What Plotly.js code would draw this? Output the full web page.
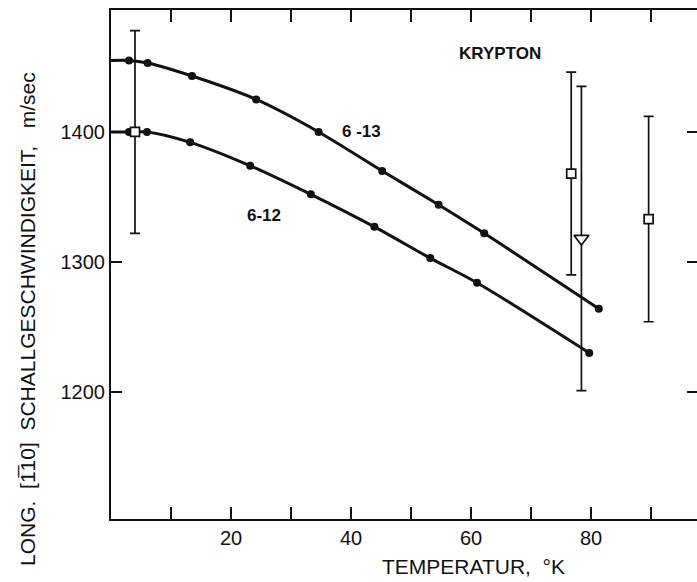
<!DOCTYPE html>
<html><head><meta charset="utf-8">
<script src="https://cdn.plot.ly/plotly-3.0.1.min.js"></script>
<style>html,body{margin:0;padding:0;overflow:hidden;background:#fff}</style>
</head><body><div id="chart" style="width:700px;height:582px"></div>
<script>
// Curve 6-13 (calculated)
const temp613 = [3.0, 6.1, 13.5, 24.2, 34.6, 45.2, 54.6, 62.2, 81.3];
const vel613  = [1455, 1453, 1443, 1425, 1400, 1370, 1344, 1322, 1264];
// Curve 6-12 (calculated)
const temp612 = [3.0, 6.0, 13.2, 23.2, 33.3, 43.9, 53.2, 61.0, 79.7];
const vel612  = [1400, 1400, 1392, 1374, 1352, 1327, 1303, 1284, 1230];
// Experimental points (squares) with error
const expTemp = [4.0, 76.7, 89.6];
const expVel  = [1400, 1368, 1333];
const expErr  = [78, 78, 79];
// Experimental point (triangle) with error
const triTemp = [78.4];
const triVel  = [1318];
const triErr  = [117];
// Axis ticks
const xTickVals = [10, 20, 30, 40, 50, 60, 70, 80, 90];
const xTickText = ['', '20', '', '40', '', '60', '', '80', ''];
const yTickVals = [1200, 1300, 1400];
const yTickText = ['1200', '1300', '1400'];

const ink = '#111';
const fnt = 'Liberation Sans, Arial, sans-serif';

function curveTraces(t, v) {
  return [
    {x: [0].concat(t), y: [v[0]].concat(v), mode: 'lines', type: 'scatter',
     line: {color: ink, width: 3, shape: 'spline', smoothing: 0.8}, hoverinfo: 'skip'},
    {x: t, y: v, mode: 'markers', type: 'scatter',
     marker: {color: ink, size: 8, symbol: 'circle'}}
  ];
}

const data = [
  ...curveTraces(temp613, vel613),
  ...curveTraces(temp612, vel612),
  {x: expTemp, y: expVel, mode: 'markers', type: 'scatter',
   error_y: {type: 'data', array: expErr, visible: true, color: ink, thickness: 1.7, width: 5},
   marker: {symbol: 'square', size: 9, color: '#fff', line: {color: ink, width: 1.7}}},
  {x: triTemp, y: triVel, mode: 'markers', type: 'scatter',
   error_y: {type: 'data', array: triErr, visible: true, color: ink, thickness: 1.7, width: 5},
   marker: {symbol: 'triangle-down', size: 13, color: '#fff', line: {color: ink, width: 1.7}}}
];

const layout = {
  width: 700, height: 582,
  margin: {l: 111, r: 2, t: 10, b: 63},
  paper_bgcolor: '#fff', plot_bgcolor: '#fff',
  showlegend: false,
  font: {family: fnt, color: ink, size: 20},
  xaxis: {
    range: [0, 97.83], showgrid: false, zeroline: false,
    showline: true, linecolor: ink, linewidth: 2, mirror: 'allticks',
    ticks: 'inside', ticklen: 12, tickwidth: 2, tickcolor: ink,
    tickmode: 'array', tickvals: xTickVals, ticktext: xTickText,
    tickfont: {family: fnt, size: 20, color: ink}
  },
  yaxis: {
    range: [1102.3, 1493.8], showgrid: false, zeroline: false,
    showline: true, linecolor: ink, linewidth: 2, mirror: 'ticks',
    ticks: 'inside', ticklen: 11, tickwidth: 2, tickcolor: ink,
    tickmode: 'array', tickvals: yTickVals, ticktext: yTickText,
    tickfont: {family: fnt, size: 20, color: ink}
  },
  annotations: [
    {text: 'KRYPTON', x: 64.8, y: 1460, xref: 'x', yref: 'y', showarrow: false,
     font: {family: fnt, size: 17, color: ink, weight: 'bold'}},
    {text: '6 -13', x: 41.8, y: 1400, xref: 'x', yref: 'y', showarrow: false,
     font: {family: fnt, size: 17, color: ink, weight: 'bold'}},
    {text: '6-12', x: 25.5, y: 1336, xref: 'x', yref: 'y', showarrow: false,
     font: {family: fnt, size: 17, color: ink, weight: 'bold'}},
    {text: 'TEMPERATUR,  °K', x: 0.617, y: -0.094, xref: 'paper', yref: 'paper',
     xanchor: 'center', yanchor: 'middle', showarrow: false,
     font: {family: fnt, size: 21, color: ink}},
    {text: 'LONG.  [1\u030510]  SCHALLGESCHWINDIGKEIT,   m/sec', x: -0.1414, y: 0.393,
     xref: 'paper', yref: 'paper', xanchor: 'center', yanchor: 'middle',
     textangle: -90, showarrow: false,
     font: {family: fnt, size: 21, color: ink}}
  ]
};

Plotly.newPlot('chart', data, layout, {displayModeBar: false, staticPlot: true});
</script></body></html>
